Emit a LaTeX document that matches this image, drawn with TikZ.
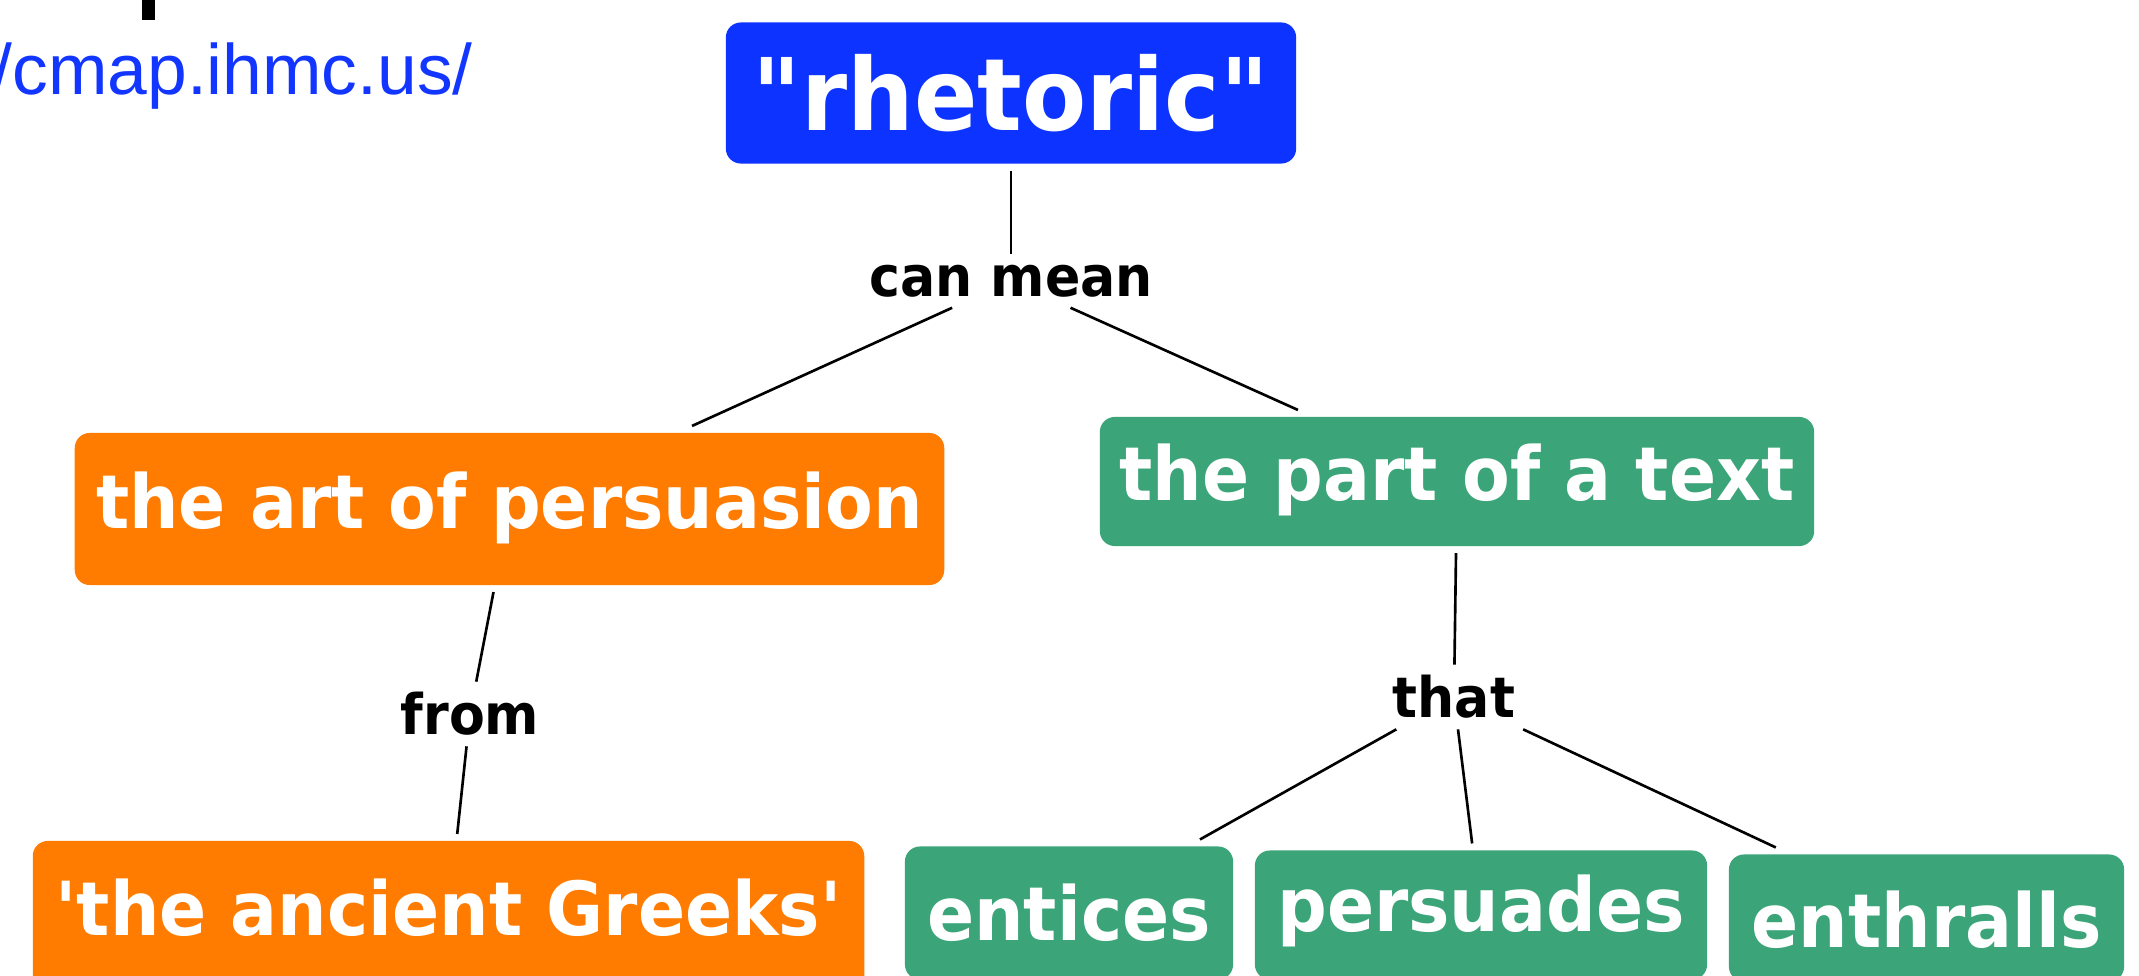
\documentclass[tikz,border=0pt]{standalone}
\usepackage{fontspec}
\newfontfamily\cmapfont[FakeStretch=0.933]{DejaVu Sans}
\newfontfamily\urlfont{Liberation Sans}
\usepackage{xcolor}
\definecolor{RhtF}{HTML}{0C33FF}
\definecolor{ArtF}{HTML}{FF7C00}
\definecolor{TxtF}{HTML}{3BA579}
\definecolor{UrlC}{HTML}{1236FF}
\tikzset{
  CPT/.style={
    rectangle, rounded corners=0.15cm,
    fill=#1, text=white,
    font=\cmapfont\bfseries\fontsize{21.2}{25}\selectfont, align=center,
    inner sep=0pt, outer sep=0.07cm,
    text height=16.1pt, text depth=5.1pt
  },
  LNK/.style={
    font=\cmapfont\bfseries\fontsize{15.9}{19}\selectfont,
    inner sep=0.1cm
  },
  CON/.style={draw=black, line width=0.75pt},
}

\begin{document}
\begin{tikzpicture}[x=0.01cm,y=-0.01cm]
\useasboundingbox (0,0) rectangle (2139,976);
\clip (0,0) rectangle (2139,976);

%================ HEADER =================
\fill[black] (142,0) rectangle (155,20);
\node[anchor=base west, inner sep=0pt, text=UrlC,
font=\urlfont\fontsize{20.3}{24}\selectfont] (url) at (-8,95) {/cmap.ihmc.us/};

%================ CONCEPTS =================
\node[CPT=RhtF, font=\cmapfont\bfseries\fontsize{28.5}{33}\selectfont,
text height=21.6pt, text depth=0pt,
minimum width=5.70cm, minimum height=1.41cm] (rhet) at (1011,93) {"rhetoric"};

\node[CPT=ArtF, minimum width=8.69cm, minimum height=1.52cm] (art)  at (509.5,509) {the art of persuasion};
\node[CPT=TxtF, minimum width=7.14cm, minimum height=1.29cm] (part) at (1457,481.5) {the part of a text};

\node[CPT=ArtF, minimum width=8.31cm, minimum height=1.50cm] (greeks) at (448.5,916) {'the ancient Greeks'};
\node[CPT=TxtF, minimum width=3.28cm, minimum height=1.33cm,
text height=15.4pt, text depth=0pt] (entices) at (1069,913) {entices};
\node[CPT=TxtF, minimum width=4.52cm, minimum height=1.29cm,
text depth=6.5pt] (persuades) at (1481,915) {persuades};
\node[CPT=TxtF, minimum width=3.95cm, minimum height=1.27cm,
text height=16.5pt, text depth=0pt] (enthralls) at (1926.5,918) {enthralls};

%================ LINKING PHRASES =================
\node[LNK] (canmean) at (1011,281) {can mean};
\node[LNK] (from)    at (470,714)  {from};
\node[LNK] (that)    at (1454,697) {that};

%================ CONNECTORS =================
\draw[CON] (rhet) -- (canmean);
\draw[CON] (canmean) -- (art);
\draw[CON] (canmean) -- (part);

\draw[CON] (art) -- (from);
\draw[CON] (from) -- (greeks);

\draw[CON] (part) -- (that);
\draw[CON] (that) -- (entices);
\draw[CON] (that) -- (persuades);
\draw[CON] (that) -- (enthralls);

\end{tikzpicture}
\end{document}
